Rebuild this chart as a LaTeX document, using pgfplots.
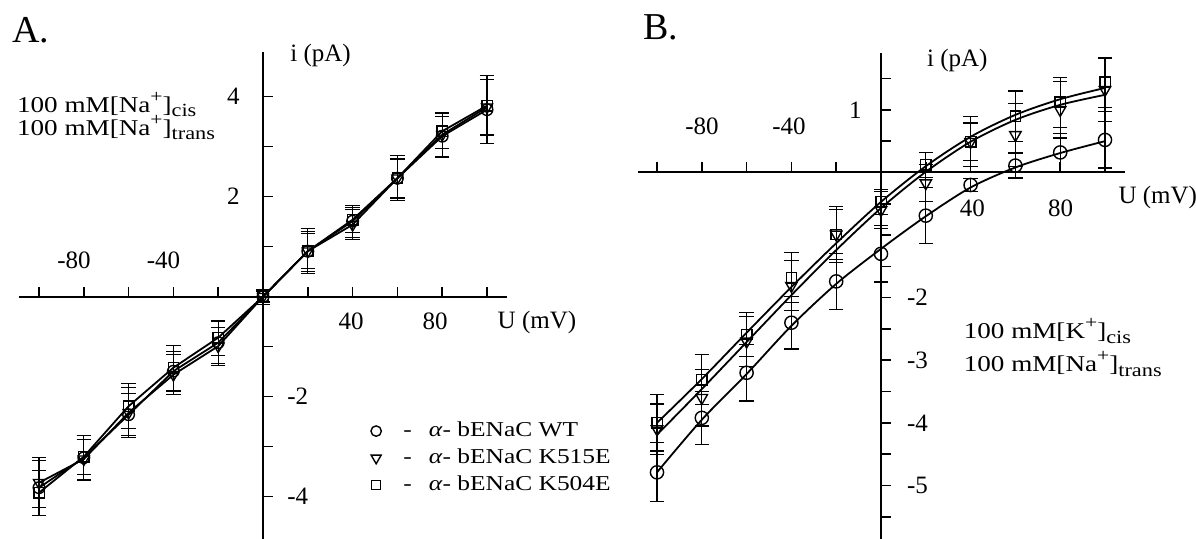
\documentclass[border=0pt]{standalone}
\usepackage{fontspec}
\setmainfont{Liberation Serif}
\newfontfamily\wide[FakeStretch=1.2]{Liberation Serif}
\usepackage{pgfplots}
\pgfplotsset{compat=1.18}

\newcommand\tl{\fontsize{12.5}{14}\selectfont}
\newcommand\ann{\wide\fontsize{11.3}{13}\selectfont}
\newcommand\leg{\wide\fontsize{10.6}{12.5}\selectfont}
\newcommand\up[1]{\raisebox{0.45em}{\fontsize{9}{9}\selectfont #1}}
\newcommand\dn[1]{\raisebox{-0.2em}{\fontsize{9.3}{9}\selectfont #1}}

\pgfplotsset{
  ivaxis/.style={
    scale only axis, axis lines=middle,
    axis line style={-, line width=1pt},
    tick align=inside, major tick length=5pt,
    tick style={black, line width=0.8pt},
    xticklabels={}, yticklabels={},
    clip=false, anchor=south west,
    xtick={-100,-80,...,100},
  },
  dat/.style={black, line width=0.9pt, forget plot,
    error bars/y dir=both, error bars/y explicit,
    error bars/error bar style={line width=0.6pt, black},
    error bars/error mark options={rotate=90, mark size=3.6pt, line width=0.6pt, black}},
  fit/.style={black, line width=0.9pt, smooth, no marks, forget plot},
  circ/.style={mark=o, mark size=#1, mark options={solid, fill=white, line width=0.7pt}},
  tri/.style={mark=triangle, mark size=#1, mark options={solid, fill=white, line width=0.7pt, rotate=180}},
  sqr/.style={mark=square, mark size=#1, mark options={solid, fill=white, line width=0.7pt}},
}

\newcommand\legtxt[1]{\hspace{9pt}-\hspace{0.8em}\textit{α}- bENaC #1}

\begin{document}
\begin{tikzpicture}
\useasboundingbox (0,0) rectangle (598pt,269.5pt);

% ---------------- panel A ----------------
\begin{axis}[ivaxis,
    at={(9.42pt,0pt)}, width=244.16pt, height=243.5pt,
    xmin=-109, xmax=109, ymin=-4.846, ymax=4.894,
    ytick={-4,-3,...,4},
    legend style={at={(0.708,0.257)}, anchor=north west, draw=none, fill=none,
      font=\leg, row sep=0.6pt},
    legend cell align=left]

\addplot[dat, circ=2.9pt] coordinates {
(-100,-3.82) +- (0,0.55)
(-80,-3.22) +- (0,0.45)
(-60,-2.36) +- (0,0.42)
(-40,-1.49) +- (0,0.40)
(-20,-0.92) +- (0,0.42)
(0,0) +- (0,0.15)
(20,0.91) +- (0,0.45)
(40,1.51) +- (0,0.32)
(60,2.37) +- (0,0.45)
(80,3.21) +- (0,0.40)
(100,3.74) +- (0,0.68)};

\addplot[dat, tri=3.2pt] coordinates {
(-100,-3.72) +- (0,0.50)
(-80,-3.25) +- (0,0.40)
(-60,-2.32) +- (0,0.50)
(-40,-1.56) +- (0,0.40)
(-20,-0.99) +- (0,0.38)
(0,0) +- (0,0.12)
(20,0.91) +- (0,0.35)
(40,1.44) +- (0,0.30)
(60,2.37) +- (0,0.38)
(80,3.24) +- (0,0.45)
(100,3.79) +- (0,0.55)};

\addplot[dat, sqr=2.6pt] coordinates {
(-100,-3.92) +- (0,0.45)
(-80,-3.20) +- (0,0.35)
(-60,-2.19) +- (0,0.45)
(-40,-1.42) +- (0,0.45)
(-20,-0.82) +- (0,0.35)
(0,0) +- (0,0.10)
(20,0.91) +- (0,0.40)
(40,1.54) +- (0,0.25)
(60,2.37) +- (0,0.40)
(80,3.31) +- (0,0.35)
(100,3.82) +- (0,0.60)};

\addlegendimage{only marks, circ=2.6pt}
\addlegendentry{\legtxt{WT}}
\addlegendimage{only marks, tri=2.9pt}
\addlegendentry{\legtxt{K515E}}
\addlegendimage{only marks, sqr=2.3pt}
\addlegendentry{\legtxt{K504E}}

\node[anchor=base, font=\tl] at (axis cs:-84.4,0.57) {-80};
\node[anchor=base, font=\tl] at (axis cs:-44.4,0.57) {-40};
\node[anchor=base, font=\tl] at (axis cs:39.3,-0.666) {40};
\node[anchor=base, font=\tl] at (axis cs:76.8,-0.666) {80};
\node[anchor=east, inner sep=0pt, font=\tl] at (axis cs:-10.3,4) {4};
\node[anchor=east, inner sep=0pt, font=\tl] at (axis cs:-10.3,2) {2};
\node[anchor=west, inner sep=0pt, font=\tl] at (axis cs:10.7,-2) {-2};
\node[anchor=west, inner sep=0pt, font=\tl] at (axis cs:10.7,-4) {-4};
\node[anchor=base west, inner sep=0pt, font=\tl] at (axis cs:12.05,4.7) {i (pA)};
\node[anchor=base west, inner sep=0pt, font=\tl] at (axis cs:104.6,-0.632) {U (mV)};
\end{axis}

% ---------------- panel B ----------------
\begin{axis}[ivaxis,
    at={(318.98pt,0pt)}, width=243.6pt, height=243.05pt,
    xmin=-108.5, xmax=109, ymin=-5.855, ymax=1.91,
    ytick={-5.5,-5,...,1.5}]

\addplot[fit] coordinates {
(-100,-4.00) (-80,-3.30) (-60,-2.56) (-40,-1.83) (-20,-1.13) (0,-0.47)
(20,0.10) (40,0.57) (60,0.92) (80,1.17) (100,1.35)};
\addplot[fit] coordinates {
(-100,-4.19) (-80,-3.46) (-60,-2.71) (-40,-1.96) (-20,-1.24) (0,-0.57)
(20,0.01) (40,0.49) (60,0.84) (80,1.08) (100,1.24)};
\addplot[fit] coordinates {
(-100,-4.79) (-80,-3.95) (-60,-3.22) (-40,-2.45) (-20,-1.78) (0,-1.22)
(20,-0.70) (40,-0.24) (60,0.08) (80,0.31) (100,0.50)};

\addplot[dat, only marks, circ=3.3pt] coordinates {
(-100,-4.79) +- (0,0.47)
(-80,-3.92) +- (0,0.42)
(-60,-3.20) +- (0,0.45)
(-40,-2.40) +- (0,0.42)
(-20,-1.74) +- (0,0.45)
(0,-1.30) +- (0,0.45)
(20,-0.69) +- (0,0.45)
(40,-0.20) +- (0,0.10)
(60,0.11) +- (0,0.20)
(80,0.32) +- (0,0.30)
(100,0.52) +- (0,0.45)};

\addplot[dat, only marks, tri=3.3pt] coordinates {
(-100,-4.10) +- (0,0.40)
(-80,-3.60) +- (0,0.45)
(-60,-2.70) +- (0,0.40)
(-40,-1.81) +- (0,0.40)
(-20,-0.99) +- (0,0.45)
(0,-0.60) +- (0,0.30)
(20,-0.17) +- (0,0.30)
(40,0.49) +- (0,0.40)
(60,0.60) +- (0,0.50)
(80,1.00) +- (0,0.45)
(100,1.32) +- (0,0.50)};

\addplot[dat, only marks, sqr=2.6pt] coordinates {
(-100,-4.00) +- (0,0.45)
(-80,-3.31) +- (0,0.40)
(-60,-2.59) +- (0,0.35)
(-40,-1.68) +- (0,0.40)
(-20,-0.99) +- (0,0.40)
(0,-0.47) +- (0,0.20)
(20,0.12) +- (0,0.20)
(40,0.49) +- (0,0.30)
(60,0.90) +- (0,0.40)
(80,1.12) +- (0,0.40)
(100,1.44) +- (0,0.40)};

\node[anchor=base, font=\tl] at (axis cs:-79.9,0.6) {-80};
\node[anchor=base, font=\tl] at (axis cs:-41.1,0.6) {-40};
\node[anchor=base, font=\tl] at (axis cs:40.8,-0.706) {40};
\node[anchor=base, font=\tl] at (axis cs:80.2,-0.706) {80};
\node[anchor=east, inner sep=0pt, font=\tl] at (axis cs:-8.5,1) {1};
\node[anchor=west, inner sep=0pt, font=\tl] at (axis cs:11.5,-2) {-2};
\node[anchor=west, inner sep=0pt, font=\tl] at (axis cs:11.5,-3) {-3};
\node[anchor=west, inner sep=0pt, font=\tl] at (axis cs:11.5,-4) {-4};
\node[anchor=west, inner sep=0pt, font=\tl] at (axis cs:11.5,-5) {-5};
\node[anchor=base west, inner sep=0pt, font=\tl] at (axis cs:20.4,1.69) {i (pA)};
\node[anchor=base west, inner sep=0pt, font=\tl] at (axis cs:105.9,-0.49) {U (mV)};
\end{axis}

% panel letters and conditions
\node[anchor=base west, inner sep=0pt, font=\fontsize{19}{22}\selectfont] at (6pt,248.2pt) {A.};
\node[anchor=base west, inner sep=0pt, font=\fontsize{19}{22}\selectfont] at (321.5pt,249.9pt) {B.};
\node[anchor=base west, inner sep=0pt, font=\ann] at (8.35pt,213.3pt) {100 mM[Na\up{+}]\dn{cis}};
\node[anchor=base west, inner sep=0pt, font=\ann] at (8.35pt,201.8pt) {100 mM[Na\up{+}]\dn{trans}};
\node[anchor=base west, inner sep=0pt, font=\ann] at (481.7pt,100pt) {100 mM[K\up{+}]\dn{cis}};
\node[anchor=base west, inner sep=0pt, font=\ann] at (481.7pt,83.65pt) {100 mM[Na\up{+}]\dn{trans}};
\end{tikzpicture}
\end{document}
